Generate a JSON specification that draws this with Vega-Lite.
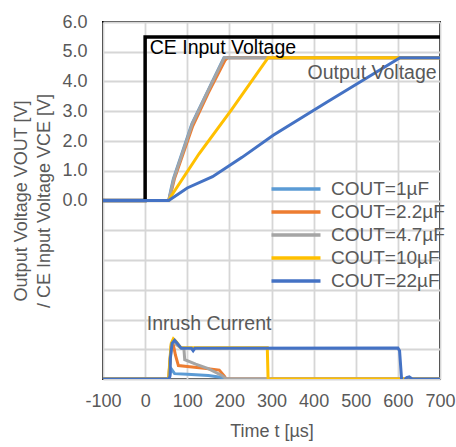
{
  "$schema": "https://vega.github.io/schema/vega-lite/v6.json",
  "width": 337,
  "height": 357,
  "autosize": "none",
  "padding": {"left": 103, "top": 22, "right": 16, "bottom": 68},
  "background": "white",
  "config": {
    "font": "Liberation Sans",
    "view": {"stroke": "black", "strokeWidth": 2},
    "axis": {
      "labelFont": "Liberation Sans",
      "titleFont": "Liberation Sans",
      "labelColor": "#595959",
      "titleColor": "#595959",
      "labelFontSize": 18,
      "titleFontSize": 18,
      "titleFontWeight": "normal",
      "grid": true,
      "gridColor": "#D6D6D6",
      "gridOpacity": 1,
      "gridWidth": 1.8,
      "domain": false,
      "ticks": false,
      "labelOverlap": false,
      "labelFlush": false
    },
    "legend": {
      "labelFont": "Liberation Sans",
      "labelFontSize": 19,
      "labelColor": "#595959"
    }
  },
  "datasets": {
    "curves": [
      {"s": "COUT=1µF", "k": "V", "t": -100, "v": 0},
      {"s": "COUT=1µF", "k": "V", "t": 56, "v": 0},
      {"s": "COUT=1µF", "k": "V", "t": 61, "v": 0.35},
      {"s": "COUT=1µF", "k": "V", "t": 67, "v": 0.73},
      {"s": "COUT=1µF", "k": "V", "t": 111, "v": 2.58},
      {"s": "COUT=1µF", "k": "V", "t": 187, "v": 4.8},
      {"s": "COUT=1µF", "k": "V", "t": 700, "v": 4.8},
      {"s": "COUT=1µF", "k": "I", "t": -100, "v": -6},
      {"s": "COUT=1µF", "k": "I", "t": 56, "v": -6},
      {"s": "COUT=1µF", "k": "I", "t": 58, "v": -5.9},
      {"s": "COUT=1µF", "k": "I", "t": 62, "v": -5.66},
      {"s": "COUT=1µF", "k": "I", "t": 65, "v": -5.72},
      {"s": "COUT=1µF", "k": "I", "t": 70, "v": -5.82},
      {"s": "COUT=1µF", "k": "I", "t": 100, "v": -5.84},
      {"s": "COUT=1µF", "k": "I", "t": 150, "v": -5.88},
      {"s": "COUT=1µF", "k": "I", "t": 183, "v": -5.95},
      {"s": "COUT=1µF", "k": "I", "t": 190, "v": -6},
      {"s": "COUT=1µF", "k": "I", "t": 700, "v": -6},

      {"s": "COUT=2.2µF", "k": "V", "t": -100, "v": 0},
      {"s": "COUT=2.2µF", "k": "V", "t": 56, "v": 0},
      {"s": "COUT=2.2µF", "k": "V", "t": 63, "v": 0.35},
      {"s": "COUT=2.2µF", "k": "V", "t": 70, "v": 0.75},
      {"s": "COUT=2.2µF", "k": "V", "t": 113, "v": 2.5},
      {"s": "COUT=2.2µF", "k": "V", "t": 150, "v": 3.62},
      {"s": "COUT=2.2µF", "k": "V", "t": 190, "v": 4.72},
      {"s": "COUT=2.2µF", "k": "V", "t": 196, "v": 4.8},
      {"s": "COUT=2.2µF", "k": "V", "t": 700, "v": 4.8},
      {"s": "COUT=2.2µF", "k": "I", "t": -100, "v": -6},
      {"s": "COUT=2.2µF", "k": "I", "t": 56, "v": -6},
      {"s": "COUT=2.2µF", "k": "I", "t": 58, "v": -5.6},
      {"s": "COUT=2.2µF", "k": "I", "t": 62, "v": -4.9},
      {"s": "COUT=2.2µF", "k": "I", "t": 66, "v": -4.78},
      {"s": "COUT=2.2µF", "k": "I", "t": 72, "v": -5.2},
      {"s": "COUT=2.2µF", "k": "I", "t": 79, "v": -5.55},
      {"s": "COUT=2.2µF", "k": "I", "t": 100, "v": -5.58},
      {"s": "COUT=2.2µF", "k": "I", "t": 140, "v": -5.64},
      {"s": "COUT=2.2µF", "k": "I", "t": 176, "v": -5.7},
      {"s": "COUT=2.2µF", "k": "I", "t": 188, "v": -5.9},
      {"s": "COUT=2.2µF", "k": "I", "t": 192, "v": -6},
      {"s": "COUT=2.2µF", "k": "I", "t": 700, "v": -6},

      {"s": "COUT=4.7µF", "k": "V", "t": -100, "v": 0},
      {"s": "COUT=4.7µF", "k": "V", "t": 56, "v": 0},
      {"s": "COUT=4.7µF", "k": "V", "t": 62, "v": 0.35},
      {"s": "COUT=4.7µF", "k": "V", "t": 68, "v": 0.73},
      {"s": "COUT=4.7µF", "k": "V", "t": 112, "v": 2.58},
      {"s": "COUT=4.7µF", "k": "V", "t": 150, "v": 3.7},
      {"s": "COUT=4.7µF", "k": "V", "t": 188, "v": 4.8},
      {"s": "COUT=4.7µF", "k": "V", "t": 700, "v": 4.8},
      {"s": "COUT=4.7µF", "k": "I", "t": -100, "v": -6},
      {"s": "COUT=4.7µF", "k": "I", "t": 56, "v": -6},
      {"s": "COUT=4.7µF", "k": "I", "t": 58, "v": -5.6},
      {"s": "COUT=4.7µF", "k": "I", "t": 62, "v": -4.85},
      {"s": "COUT=4.7µF", "k": "I", "t": 67, "v": -4.7},
      {"s": "COUT=4.7µF", "k": "I", "t": 75, "v": -4.85},
      {"s": "COUT=4.7µF", "k": "I", "t": 85, "v": -4.95},
      {"s": "COUT=4.7µF", "k": "I", "t": 92, "v": -4.97},
      {"s": "COUT=4.7µF", "k": "I", "t": 94, "v": -5.35},
      {"s": "COUT=4.7µF", "k": "I", "t": 120, "v": -5.5},
      {"s": "COUT=4.7µF", "k": "I", "t": 150, "v": -5.65},
      {"s": "COUT=4.7µF", "k": "I", "t": 182, "v": -5.88},
      {"s": "COUT=4.7µF", "k": "I", "t": 193, "v": -6},
      {"s": "COUT=4.7µF", "k": "I", "t": 700, "v": -6},

      {"s": "COUT=10µF", "k": "V", "t": -100, "v": 0},
      {"s": "COUT=10µF", "k": "V", "t": 56, "v": 0},
      {"s": "COUT=10µF", "k": "V", "t": 62, "v": 0.15},
      {"s": "COUT=10µF", "k": "V", "t": 128, "v": 1.57},
      {"s": "COUT=10µF", "k": "V", "t": 204, "v": 3.03},
      {"s": "COUT=10µF", "k": "V", "t": 292, "v": 4.8},
      {"s": "COUT=10µF", "k": "V", "t": 700, "v": 4.8},
      {"s": "COUT=10µF", "k": "I", "t": -100, "v": -6},
      {"s": "COUT=10µF", "k": "I", "t": 56, "v": -6},
      {"s": "COUT=10µF", "k": "I", "t": 58, "v": -5.5},
      {"s": "COUT=10µF", "k": "I", "t": 62, "v": -4.8},
      {"s": "COUT=10µF", "k": "I", "t": 67, "v": -4.65},
      {"s": "COUT=10µF", "k": "I", "t": 74, "v": -4.75},
      {"s": "COUT=10µF", "k": "I", "t": 84, "v": -4.94},
      {"s": "COUT=10µF", "k": "I", "t": 120, "v": -4.95},
      {"s": "COUT=10µF", "k": "I", "t": 290, "v": -4.95},
      {"s": "COUT=10µF", "k": "I", "t": 292, "v": -6.05},
      {"s": "COUT=10µF", "k": "I", "t": 296, "v": -6.05},
      {"s": "COUT=10µF", "k": "I", "t": 300, "v": -6},
      {"s": "COUT=10µF", "k": "I", "t": 700, "v": -6},

      {"s": "COUT=22µF", "k": "V", "t": -100, "v": 0},
      {"s": "COUT=22µF", "k": "V", "t": 56, "v": 0},
      {"s": "COUT=22µF", "k": "V", "t": 100, "v": 0.42},
      {"s": "COUT=22µF", "k": "V", "t": 160, "v": 0.8},
      {"s": "COUT=22µF", "k": "V", "t": 230, "v": 1.45},
      {"s": "COUT=22µF", "k": "V", "t": 304, "v": 2.19},
      {"s": "COUT=22µF", "k": "V", "t": 432, "v": 3.31},
      {"s": "COUT=22µF", "k": "V", "t": 520, "v": 4.07},
      {"s": "COUT=22µF", "k": "V", "t": 605, "v": 4.8},
      {"s": "COUT=22µF", "k": "V", "t": 700, "v": 4.8},
      {"s": "COUT=22µF", "k": "I", "t": -100, "v": -6},
      {"s": "COUT=22µF", "k": "I", "t": 57, "v": -6},
      {"s": "COUT=22µF", "k": "I", "t": 59, "v": -5.9},
      {"s": "COUT=22µF", "k": "I", "t": 60, "v": -5.3},
      {"s": "COUT=22µF", "k": "I", "t": 64, "v": -4.8},
      {"s": "COUT=22µF", "k": "I", "t": 70, "v": -4.7},
      {"s": "COUT=22µF", "k": "I", "t": 76, "v": -4.8},
      {"s": "COUT=22µF", "k": "I", "t": 86, "v": -4.97},
      {"s": "COUT=22µF", "k": "I", "t": 110, "v": -4.97},
      {"s": "COUT=22µF", "k": "I", "t": 114, "v": -5.05},
      {"s": "COUT=22µF", "k": "I", "t": 118, "v": -4.97},
      {"s": "COUT=22µF", "k": "I", "t": 600, "v": -4.96},
      {"s": "COUT=22µF", "k": "I", "t": 604, "v": -5.05},
      {"s": "COUT=22µF", "k": "I", "t": 609, "v": -6.05},
      {"s": "COUT=22µF", "k": "I", "t": 615, "v": -6.05},
      {"s": "COUT=22µF", "k": "I", "t": 621, "v": -5.95},
      {"s": "COUT=22µF", "k": "I", "t": 627, "v": -5.93},
      {"s": "COUT=22µF", "k": "I", "t": 634, "v": -6},
      {"s": "COUT=22µF", "k": "I", "t": 700, "v": -6}
    ],
    "ce": [
      {"t": -100, "v": 0},
      {"t": 0, "v": 0},
      {"t": 0, "v": 5.5},
      {"t": 700, "v": 5.5}
    ],
    "notes": [
      {"label": "CE Input Voltage", "t": 11, "v": 4.94},
      {"label": "Output Voltage", "t": 692, "v": 4.1},
      {"label": "Inrush Current", "t": 4, "v": -4.35}
    ]
  },
  "encoding": {
    "x": {
      "field": "t", "type": "quantitative",
      "scale": {"domain": [-100, 700], "nice": false, "zero": false},
      "axis": {
        "values": [-100, 0, 100, 200, 300, 400, 500, 600, 700],
        "labelExpr": "datum.value < 0 ? '-' + abs(datum.value) : '' + datum.value",
        "title": "Time t [µs]",
        "labelPadding": 13,
        "titlePadding": 12
      }
    },
    "y": {
      "field": "v", "type": "quantitative",
      "scale": {"domain": [-6, 6], "nice": false, "zero": false},
      "axis": {
        "values": [-6, -5, -4, -3, -2, -1, 0, 1, 2, 3, 4, 5, 6],
        "labelExpr": "datum.value >= 0 ? format(datum.value, '.1f') : ''",
        "title": ["Output Voltage VOUT [V]", "/ CE Input Voltage VCE [V]"],
        "titleLineHeight": 23,
        "labelPadding": 16,
        "titlePadding": 8
      }
    }
  },
  "layer": [
    {
      "data": {"name": "ce"},
      "mark": {"type": "line", "color": "black", "strokeWidth": 3.5, "clip": true},
      "encoding": {
        "order": {"field": "t", "type": "quantitative"}
      }
    },
    {
      "data": {"name": "curves"},
      "mark": {"type": "line", "strokeWidth": 3, "clip": true},
      "encoding": {
        "detail": {"field": "k"},
        "order": {"field": "t", "type": "quantitative"},
        "color": {
          "field": "s", "type": "nominal",
          "scale": {
            "domain": ["COUT=1µF", "COUT=2.2µF", "COUT=4.7µF", "COUT=10µF", "COUT=22µF"],
            "range": ["#5B9BD5", "#ED7D31", "#A5A5A5", "#FFC000", "#4472C4"]
          },
          "legend": {
            "title": null,
            "orient": "none",
            "legendX": 168,
            "legendY": 155,
            "padding": 0,
            "symbolType": "M-2.5,0H2.5",
            "symbolSize": 384,
            "symbolStrokeWidth": 3.5,
            "symbolOffset": 13,
            "labelOffset": 23,
            "rowPadding": 1
          }
        }
      }
    },
    {
      "data": {"name": "notes"},
      "transform": [{"filter": "datum.label == 'CE Input Voltage'"}],
      "mark": {"type": "text", "align": "left", "baseline": "alphabetic", "fontSize": 19.5, "color": "black"},
      "encoding": {"text": {"field": "label"}}
    },
    {
      "data": {"name": "notes"},
      "transform": [{"filter": "datum.label == 'Output Voltage'"}],
      "mark": {"type": "text", "align": "right", "baseline": "alphabetic", "fontSize": 19.5, "color": "#595959"},
      "encoding": {"text": {"field": "label"}}
    },
    {
      "data": {"name": "notes"},
      "transform": [{"filter": "datum.label == 'Inrush Current'"}],
      "mark": {"type": "text", "align": "left", "baseline": "alphabetic", "fontSize": 19.5, "color": "#595959"},
      "encoding": {"text": {"field": "label"}}
    }
  ]
}
